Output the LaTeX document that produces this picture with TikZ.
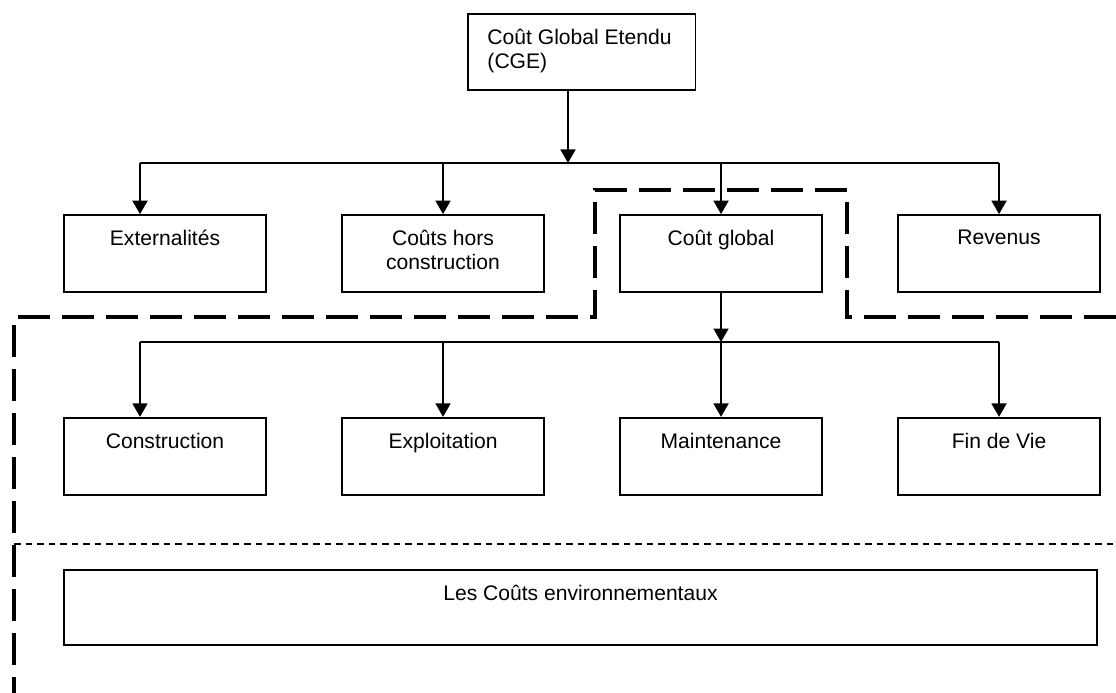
\documentclass[tikz,border=0pt]{standalone}
\usepackage{fontspec}
\setmainfont{Liberation Sans}
\usepackage{tikz}
\usetikzlibrary{arrows.meta, positioning}

\begin{document}
\begin{tikzpicture}[
    font=\fontsize{12}{13.9}\selectfont,
    node distance=1.485cm,
    box/.style={
        draw,
        line width=1pt,
        minimum width=4.04cm,
        minimum height=1.54cm,
        inner sep=0pt
    },
    txt/.style={
        inner sep=0pt,
        align=center
    },
    arrow/.style={
        -{Triangle[width=0.30cm,length=0.27cm]},
        line width=1pt
    },
    bus/.style={
        line width=1pt
    },
    zone/.style={
        line width=2.3pt,
        dash pattern=on 0.64cm off 0.24cm
    },
    split/.style={
        line width=1.4pt,
        dash pattern=on 0.13cm off 0.10cm
    }
]
\useasboundingbox (0,0) rectangle (22.32,-13.86);

% top
\node[box, minimum width=4.55cm, minimum height=1.52cm] (cge) at (11.635,-1.04) {};
\node[txt, align=left, below right=0.31cm and 0.40cm of cge.north west] (cge-t)
{Coût Global Etendu\\(CGE)};

% first row
\node[box] (ext) at (3.30,-5.07) {};
\node[box, right=of ext] (hors) {};
\node[box, right=of hors] (global) {};
\node[box, right=of global] (rev) {};

\node[txt, below=0.31cm of ext.north] (ext-t) {Externalités};
\node[txt, below=0.31cm of hors.north] (hors-t) {Coûts hors\\construction};
\node[txt, below=0.31cm of global.north] (global-t) {Coût global};
\node[txt, below=0.31cm of rev.north] (rev-t) {Revenus};

% second row
\node[box, below=2.48cm of ext] (cons) {};
\node[box, right=of cons] (expl) {};
\node[box, right=of expl] (maint) {};
\node[box, right=of maint] (fin) {};

\node[txt, below=0.31cm of cons.north] (cons-t) {Construction};
\node[txt, below=0.31cm of expl.north] (expl-t) {Exploitation};
\node[txt, below=0.31cm of maint.north] (maint-t) {Maintenance};
\node[txt, below=0.31cm of fin.north] (fin-t) {Fin de Vie};

% environment
\node[box, minimum width=20.66cm, minimum height=1.50cm,
      below=1.47cm of cons.south west, anchor=north west] (env) {};
\node[txt, below=0.31cm of env.north] (env-t) {Les Coûts environnementaux};

% buses
\coordinate (j1) at (11.36,-3.26);
\coordinate (b1l) at (2.80,-3.26);
\coordinate (b1r) at (rev.north |- j1);
\coordinate (b2l) at (2.80,-6.84);
\coordinate (b2r) at (fin.north |- b2l);

\draw[arrow] (cge.south -| j1) -- (j1);
\draw[bus] (b1l) -- (b1r);
\draw[arrow] (b1l) -- (b1l |- ext.north);
\draw[arrow] (hors.north |- j1) -- (hors.north);
\draw[arrow] (global.north |- j1) -- (global.north);
\draw[arrow] (b1r) -- (rev.north);

\draw[arrow] (global.south) -- (global.south |- b2l);
\draw[bus] (b2l) -- (b2r);
\draw[arrow] (b2l) -- (b2l |- cons.north);
\draw[arrow] (expl.north |- b2l) -- (expl.north);
\draw[arrow] (maint.north |- b2l) -- (maint.north);
\draw[arrow] (b2r) -- (fin.north);

% dashed zones
\draw[zone] (22.32,-6.34) -- (16.94,-6.34) -- (16.94,-3.80) -- (11.90,-3.80)
    -- (11.90,-6.34) -- (0.28,-6.34) -- (0.28,-13.86);
\draw[split] (0.28,-10.88) -- (22.32,-10.88);

\end{tikzpicture}
\end{document}
